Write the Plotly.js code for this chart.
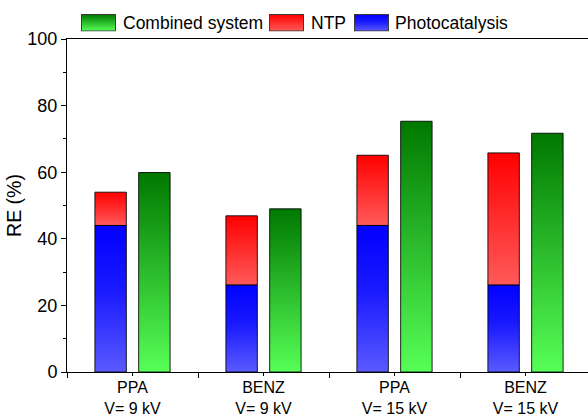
<!DOCTYPE html>
<html>
<head>
<meta charset="utf-8">
<script src="https://cdn.plot.ly/plotly-3.0.1.min.js"></script>
<style>html,body{margin:0;padding:0;background:#fff;}#chart{width:588px;height:417px;}</style>
</head>
<body>
<div id="chart"></div>
<script>
// ---- data ----
const compounds = ['PPA', 'BENZ', 'PPA', 'BENZ'];
const voltages = ['V= 9 kV', 'V= 9 kV', 'V= 15 kV', 'V= 15 kV'];
const photocatalysis = [44.0, 26.1, 44.0, 26.1];
const ntp = [10.0, 20.8, 21.1, 39.7];          // NTP contribution stacked on photocatalysis
const combined = [59.9, 49.0, 75.3, 71.7];
const tickLabels = compounds.map((c, i) => c + '<br>' + voltages[i]);
const legendNames = ['Combined system', 'NTP', 'Photocatalysis'];

// ---- styling ----
const FONT = 'Liberation Sans, Arial, sans-serif';
const L = 67, T = 39, PW = 521, PH = 333;         // plot area in pixels
const px = x => (x - L) / PW, py = y => (T + PH - y) / PH;
const barW = 0.24, off = 0.167;
const series = [
  {name: legendNames[0], pos: +off, base: () => 0, top: i => combined[i],
   scale: [[0, '#57ff57'], [1, '#007800']]},
  {name: legendNames[1], pos: -off, base: i => photocatalysis[i], top: i => photocatalysis[i] + ntp[i],
   scale: [[0, '#ff5a5a'], [1, '#ff0000']]},
  {name: legendNames[2], pos: -off, base: () => 0, top: i => photocatalysis[i],
   scale: [[0, '#5a5aff'], [0.55, '#1a1aff'], [1, '#0000ff']]}
];

const traces = [];
series.forEach((s) => {
  compounds.forEach((c, i) => {
    const x0 = i + s.pos - barW / 2, x1 = i + s.pos + barW / 2;
    const y0 = s.base(i), y1 = s.top(i);
    traces.push({
      type: 'scatter', mode: 'lines',
      x: [x0, x1, x1, x0, x0], y: [y0, y0, y1, y1, y0],
      fill: 'toself',
      fillcolor: s.scale[s.scale.length - 1][1],
      fillgradient: {type: 'vertical', colorscale: s.scale},
      line: {color: 'rgba(0,0,0,0.85)', width: 1},
      name: s.name, showlegend: false,
      hoverinfo: 'skip'
    });
  });
});

// ---- legend (swatch boxes with gradients + labels) ----
const swatchX = [81, 269, 354];
const textX = [121, 308.5, 393];
const swatchTop = 14, swatchW = 35, swatchH = 17.5, textY = 23;
function swatchSVG(scale) {
  const stops = scale.slice().reverse().map(([o, c]) =>
    `<stop offset='${1 - o}' stop-color='${c}'/>`).join('');
  const svg = `<svg xmlns='http://www.w3.org/2000/svg' width='70' height='35' viewBox='0 0 70 35' preserveAspectRatio='none'>` +
    `<defs><linearGradient id='g' x1='0' y1='0' x2='0' y2='1'>${stops}</linearGradient></defs>` +
    `<rect x='1' y='1' width='68' height='33' fill='url(#g)' stroke='#3a3a3a' stroke-width='2'/></svg>`;
  return 'data:image/svg+xml;charset=utf-8,' + encodeURIComponent(svg);
}
const images = series.map((s, k) => ({
  source: swatchSVG(s.scale), xref: 'paper', yref: 'paper',
  x: px(swatchX[k]), y: py(swatchTop), sizex: swatchW / PW, sizey: swatchH / PH,
  xanchor: 'left', yanchor: 'top', sizing: 'stretch', layer: 'above'
}));
const annotations = series.map((s, k) => ({
  text: s.name, xref: 'paper', yref: 'paper', x: px(textX[k]), y: py(textY),
  xanchor: 'left', yanchor: 'middle', showarrow: false,
  font: {family: FONT, size: 17.5, color: '#000'}
}));

const layout = {
  width: 588, height: 417,
  margin: {l: L, r: 588 - L - PW, t: T, b: 417 - T - PH, autoexpand: false},
  paper_bgcolor: '#fff', plot_bgcolor: '#fff',
  font: {family: FONT, size: 17, color: '#000'},
  showlegend: false,
  images: images,
  annotations: annotations,
  xaxis: {
    range: [-0.5, -0.5 + PW / 131],
    tickmode: 'array', tickvals: [0, 1, 2, 3], ticktext: tickLabels,
    ticks: 'outside', ticklen: 3, tickwidth: 1, tickcolor: '#000',
    ticklabelstandoff: -2,
    minor: {tickmode: 'array', tickvals: [-0.5, 0.5, 1.5, 2.5, 3.5], ticks: 'outside', ticklen: 5, tickwidth: 1, tickcolor: '#000'},
    showline: true, linecolor: '#000', linewidth: 1, mirror: true,
    showgrid: false, zeroline: false,
    tickfont: {family: FONT, size: 16, color: '#000'}
  },
  yaxis: {
    range: [0, 100], tickmode: 'linear', tick0: 0, dtick: 20,
    ticks: 'outside', ticklen: 5, tickwidth: 1, tickcolor: '#000',
    minor: {dtick: 10, ticks: 'outside', ticklen: 3, tickwidth: 1, tickcolor: '#000'},
    showline: true, linecolor: '#000', linewidth: 1, mirror: false,
    showgrid: false, zeroline: false,
    tickfont: {family: FONT, size: 18, color: '#000'},
    title: {text: 'RE (%)', font: {family: FONT, size: 19.5, color: '#000'}, standoff: 0}
  }
};

Plotly.newPlot('chart', traces, layout, {staticPlot: true, displayModeBar: false});
</script>
</body>
</html>
